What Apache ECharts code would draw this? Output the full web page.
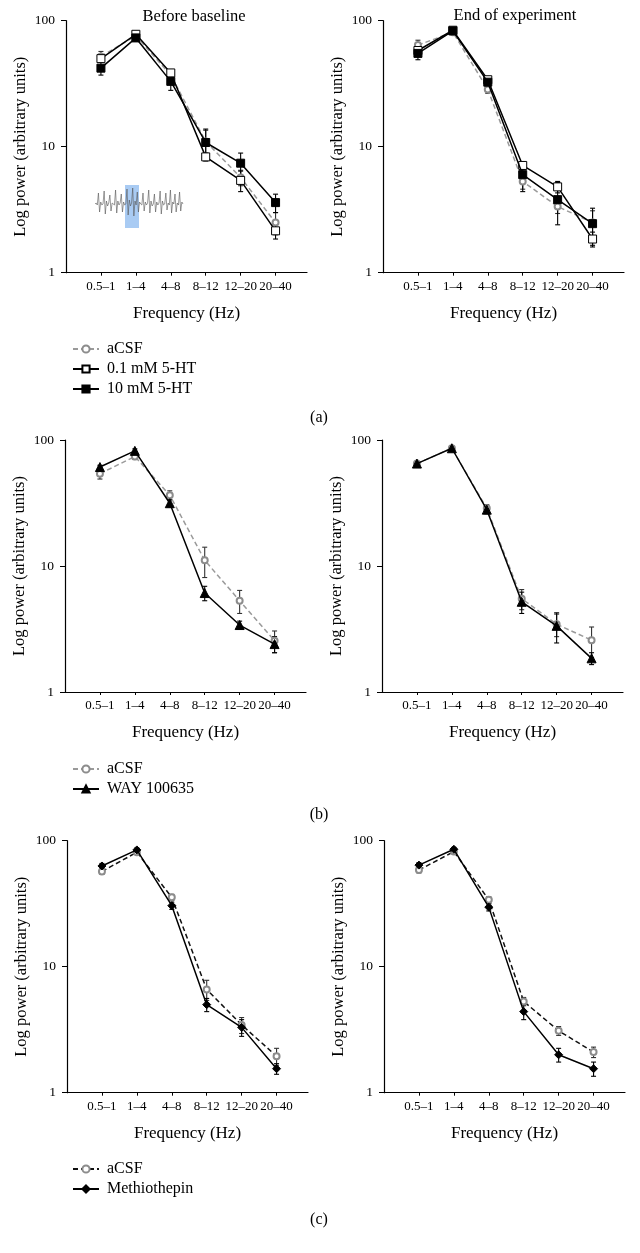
<!DOCTYPE html>
<html>
<head>
<meta charset="utf-8">
<script src="https://cdn.jsdelivr.net/npm/echarts@6/dist/echarts.min.js"></script>
<style>
  html, body { margin: 0; background: #fff; }
  #chart { width: 640px; height: 1253px; }
</style>
</head>
<body>
<div id="chart"></div>
<script>
'use strict';

var FONT = "'Liberation Serif', 'DejaVu Serif', serif";

// frequency bands (x categories), plotted at positions 1..6
var categories = ['0.5–1', '1–4', '4–8', '8–12', '12–20', '20–40'];
var xPos = [1, 2, 3, 4, 5, 6];

// (a) 5-HT, before baseline
var aBeforeAcsf = [52, 76, 37, 11, 5.7, 2.5];
var aBeforeHt01 = [50, 78, 38.5, 8.3, 5.4, 2.15];
var aBeforeHt10 = [42, 73, 33, 10.8, 7.4, 3.6];
var aBeforeAcsfErr = [5, 3, 3, 2.5, 0.8, 0.5];
var aBeforeHt01Err = [3, 3, 2, 0.6, 1.0, 0.3];
var aBeforeHt10Err = [5, 4, 5, 3, 1.5, 0.6];

// (a) 5-HT, end of experiment
var aEndAcsf = [64, 81, 28.5, 5.3, 3.35, 2.5];
var aEndHt01 = [58, 84, 34, 7.1, 4.8, 1.85];
var aEndHt10 = [55, 83, 32.5, 6.0, 3.8, 2.45];
var aEndAcsfErr = [6, 2, 2, 0.7, 0.4, 0.6];
var aEndHt01Err = [5, 2, 2, 0.5, 0.5, 0.25];
var aEndHt10Err = [6, 3, 3, 1.6, 1.4, 0.8];

// (b) WAY 100635
var bBeforeAcsf = [54, 74, 36.5, 11.1, 5.3, 2.55];
var bBeforeWay = [61, 82, 31.5, 6.1, 3.4, 2.4];
var bBeforeAcsfErr = [5, 4, 3, 3, 1.1, 0.5];
var bBeforeWayErr = [2, 3, 2, 0.8, 0.25, 0.35];
var bEndAcsf = [65, 86, 28.7, 5.5, 3.45, 2.58];
var bEndWay = [65, 86, 28, 5.2, 3.35, 1.85];
var bEndAcsfErr = [2, 2, 2, 1.0, 0.7, 0.7];
var bEndWayErr = [2, 2, 2, 1.0, 0.9, 0.2];

// (c) Methiothepin
var cBeforeAcsf = [57, 81, 35.5, 6.6, 3.45, 1.95];
var cBeforeMeth = [63, 84.5, 30.5, 5.0, 3.3, 1.55];
var cBeforeAcsfErr = [3, 3, 2, 1.2, 0.5, 0.3];
var cBeforeMethErr = [3, 3, 2, 0.6, 0.5, 0.15];
var cEndAcsf = [58.5, 82, 34, 5.3, 3.1, 2.1];
var cEndMeth = [64, 85.5, 29.7, 4.4, 2.0, 1.55];
var cEndAcsfErr = [3, 3, 2, 0.4, 0.25, 0.2];
var cEndMethErr = [3, 3, 2, 0.6, 0.25, 0.2];

// pattern for the small EEG trace inset (decoration only)
var traceOffsets = [0, -1, 1, -11, 8, -2, 1, 0, -13, 10, -3, 2, -1, -9, 7, -1, 0, 1, -14, 9,
  -3, 1, -1, -10, 8, -2, 1, 0, -15, 11, -4, 2, -1, -16, 12, -3, 1, -12, 8, -2,
  0, 1, -11, 7, -2, 1, -1, -14, 9, -3, 2, 0, -10, 8, -2, 1, -1, -13, 10, -3,
  1, 0, -11, 6, -1, 1, -14, 9, -2, 0, -10, 8, -1, 1, -12, 7, -2, 0];

// marker / line styles per group
var styles = {
  acsf:  {symbol: 'emptyCircle', size: 6, fill: '#8c8c8c', stroke: '#8c8c8c', line: '#9a9a9a', dash: [5, 3], z: 2},
  acsfK: {symbol: 'emptyCircle', size: 6, fill: '#8c8c8c', stroke: '#8c8c8c', line: '#111', dash: [5, 3], z: 2},
  ht01:  {symbol: 'rect', size: 8, fill: '#fff', stroke: '#000', line: '#000', dash: 'solid', z: 3},
  ht10:  {symbol: 'rect', size: 8, fill: '#000', stroke: '#000', line: '#000', dash: 'solid', z: 4},
  way:   {symbol: 'triangle', size: 9, fill: '#000', stroke: '#000', line: '#000', dash: 'solid', z: 3},
  meth:  {symbol: 'diamond', size: 8, fill: '#000', stroke: '#000', line: '#000', dash: 'solid', z: 3},
};

// grid layout: [left, top] for the 6 panels
var grids = [
  [66, 20.7], [383, 20.7],
  [65, 440], [382, 440],
  [67, 840.7], [384, 840.7],
];
var GRID_W = 241, GRID_H = 252;

function lineSeries(name, values, idx, st) {
  return {
    type: 'line', name: name, xAxisIndex: idx, yAxisIndex: idx,
    data: values.map(function (v, i) { return [xPos[i], v]; }),
    symbol: st.symbol, symbolSize: st.size,
    itemStyle: {color: st.fill, borderColor: st.stroke, borderWidth: 1},
    lineStyle: {color: st.line, width: 1.5, type: st.dash},
    z: st.z,
  };
}

function errorSeries(values, errs, idx, color) {
  return {
    type: 'custom', xAxisIndex: idx, yAxisIndex: idx, z: 1, silent: true,
    data: values.map(function (v, i) { return [xPos[i], v - errs[i], v + errs[i]]; }),
    encode: {x: 0, y: [1, 2]},
    renderItem: function (params, api) {
      var lo = api.coord([api.value(0), api.value(1)]);
      var hi = api.coord([api.value(0), api.value(2)]);
      var w = 2.5;
      var st = {stroke: color, lineWidth: 1.1};
      return {type: 'group', children: [
        {type: 'line', shape: {x1: lo[0], y1: lo[1], x2: hi[0], y2: hi[1]}, style: st},
        {type: 'line', shape: {x1: lo[0] - w, y1: lo[1], x2: lo[0] + w, y2: lo[1]}, style: st},
        {type: 'line', shape: {x1: hi[0] - w, y1: hi[1], x2: hi[0] + w, y2: hi[1]}, style: st},
      ]};
    },
  };
}

function group(name, values, errs, idx, st, errColor) {
  return [errorSeries(values, errs, idx, errColor), lineSeries(name, values, idx, st)];
}

var series = [].concat(
  group('aCSF', aBeforeAcsf, aBeforeAcsfErr, 0, styles.acsf, '#333'),
  group('0.1 mM 5-HT', aBeforeHt01, aBeforeHt01Err, 0, styles.ht01, '#000'),
  group('10 mM 5-HT', aBeforeHt10, aBeforeHt10Err, 0, styles.ht10, '#000'),
  group('aCSF', aEndAcsf, aEndAcsfErr, 1, styles.acsf, '#333'),
  group('0.1 mM 5-HT', aEndHt01, aEndHt01Err, 1, styles.ht01, '#000'),
  group('10 mM 5-HT', aEndHt10, aEndHt10Err, 1, styles.ht10, '#000'),
  group('aCSF', bBeforeAcsf, bBeforeAcsfErr, 2, styles.acsf, '#333'),
  group('WAY 100635', bBeforeWay, bBeforeWayErr, 2, styles.way, '#000'),
  group('aCSF', bEndAcsf, bEndAcsfErr, 3, styles.acsf, '#333'),
  group('WAY 100635', bEndWay, bEndWayErr, 3, styles.way, '#000'),
  group('aCSF (c)', cBeforeAcsf, cBeforeAcsfErr, 4, styles.acsfK, '#333'),
  group('Methiothepin', cBeforeMeth, cBeforeMethErr, 4, styles.meth, '#000'),
  group('aCSF (c)', cEndAcsf, cEndAcsfErr, 5, styles.acsfK, '#333'),
  group('Methiothepin', cEndMeth, cEndMethErr, 5, styles.meth, '#000')
);

var xAxes = grids.map(function (g, i) {
  return {
    type: 'value', gridIndex: i, min: 0, max: 6.9, interval: 1,
    axisLine: {lineStyle: {color: '#000', width: 1.2}},
    axisTick: {show: true, length: 3, customValues: xPos, lineStyle: {color: '#000'}},
    axisLabel: {
      customValues: xPos, margin: 7, color: '#000', fontFamily: FONT, fontSize: 13,
      formatter: function (v) { return categories[v - 1] || ''; },
    },
    splitLine: {show: false},
    name: 'Frequency (Hz)', nameLocation: 'middle', nameGap: 32,
    nameTextStyle: {color: '#000', fontFamily: FONT, fontSize: 17},
  };
});

var yAxes = grids.map(function (g, i) {
  return {
    type: 'log', logBase: 10, gridIndex: i, min: 1, max: 100,
    axisLine: {show: true, lineStyle: {color: '#000', width: 1.2}},
    axisTick: {show: true, length: 5, lineStyle: {color: '#000'}},
    axisLabel: {margin: 11, color: '#000', fontFamily: FONT, fontSize: 13.5},
    splitLine: {show: false},
    name: 'Log power (arbitrary units)', nameLocation: 'middle', nameGap: 37,
    nameTextStyle: {color: '#000', fontFamily: FONT, fontSize: 16.5},
  };
});

function legend(top, names) {
  return {
    orient: 'vertical', left: 67, top: top, itemWidth: 26, itemHeight: 9, itemGap: 4,
    selectedMode: false, data: names,
    formatter: function (n) { return n.replace(' (c)', ''); },
    textStyle: {color: '#000', fontFamily: FONT, fontSize: 16, lineHeight: 16, padding: [0, 0, 0, 3]},
  };
}

// inset trace: x spacing over the inset width
var traceX0 = 95, traceW = 88, traceY = 204;
var tracePts = traceOffsets.map(function (d, i) {
  return [traceX0 + i * traceW / (traceOffsets.length - 1), traceY + d];
});

function text(str, x, y, size) {
  return {
    type: 'text', x: x, y: y,
    style: {text: str, fill: '#000', font: size + 'px ' + FONT, textAlign: 'center', textVerticalAlign: 'middle'},
  };
}

var option = {
  backgroundColor: '#fff',
  animation: false,
  grid: grids.map(function (g) {
    return {left: g[0], top: g[1], width: GRID_W, height: GRID_H};
  }),
  xAxis: xAxes,
  yAxis: yAxes,
  legend: [
    legend(336, ['aCSF', '0.1 mM 5-HT', '10 mM 5-HT']),
    legend(756, ['aCSF', 'WAY 100635']),
    legend(1156, ['aCSF (c)', 'Methiothepin']),
  ],
  graphic: [
    text('Before baseline', 194, 17, 16.5),
    text('End of experiment', 515, 16, 16.5),
    text('(a)', 319, 418, 16),
    text('(b)', 319, 815, 16),
    text('(c)', 319, 1220, 16),
    {type: 'rect', shape: {x: 125, y: 185, width: 14, height: 43}, style: {fill: '#a9cbf3'}, z: 0},
    {type: 'polyline', shape: {points: tracePts}, style: {stroke: '#555', lineWidth: 0.6, fill: null}, z: 1},
  ],
  series: series,
};

var chart = echarts.init(document.getElementById('chart'), null, {renderer: 'canvas'});
chart.setOption(option);
</script>
</body>
</html>
